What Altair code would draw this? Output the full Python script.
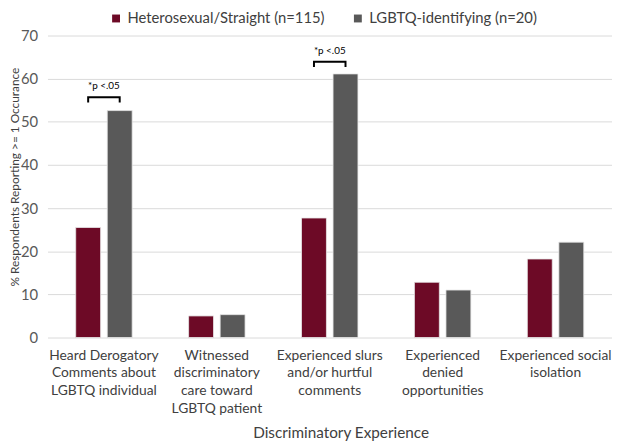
import altair as alt
import pandas as pd

categories = [
    "Heard Derogatory|Comments about|LGBTQ individual",
    "Witnessed|discriminatory|care toward|LGBTQ patient",
    "Experienced slurs|and/or hurtful|comments",
    "Experienced|denied|opportunities",
    "Experienced social|isolation",
]
groups = ["Heterosexual/Straight (n=115)", "LGBTQ-identifying (n=20)"]
hetero = [25.5, 5.0, 27.7, 12.8, 18.2]
lgbtq = [52.6, 5.3, 61.1, 11.0, 22.1]
colors = ["#6D0A26", "#595959"]

sig_categories = [categories[0], categories[2]]
sig_label = "*p <.05"
bracket_top = [55.7, 63.9]
bracket_tick = [54.5, 62.7]
label_y = [58.3, 66.4]

FONT = "Lato"

rows = []
for c, h, l in zip(categories, hetero, lgbtq):
    rows.append({"category": c, "group": groups[0], "value": h})
    rows.append({"category": c, "group": groups[1], "value": l})
bars_df = pd.DataFrame(rows)

br_rows = []
for i, (c, t, k) in enumerate(zip(sig_categories, bracket_top, bracket_tick)):
    br_rows += [
        {"id": i, "category": c, "group": groups[0], "y": k, "o": 0},
        {"id": i, "category": c, "group": groups[0], "y": t, "o": 1},
        {"id": i, "category": c, "group": groups[1], "y": t, "o": 2},
        {"id": i, "category": c, "group": groups[1], "y": k, "o": 3},
    ]
br_df = pd.DataFrame(br_rows)
lab_df = pd.DataFrame({"category": sig_categories, "y": label_y, "text": [sig_label] * 2})

x_enc = alt.X(
    "category:N",
    sort=categories,
    scale=alt.Scale(paddingInner=0.5, paddingOuter=0.25),
    axis=alt.Axis(
        title="Discriminatory Experience",
        labelExpr="split(datum.label, '|')",
        labelAngle=0,
        labelFontSize=14,
        labelLineHeight=18,
        labelColor="#404040",
        labelFont=FONT,
        labelPadding=11,
        labelLimit=0,
        domain=False,
        ticks=False,
        titleFont=FONT,
        titleFontSize=15.5,
        titleFontWeight="normal",
        titleColor="#404040",
        titleY=96,
        titleX=297,
        titleBaseline="middle",
    ),
)
xoff = alt.XOffset("group:N", sort=groups, scale=alt.Scale(paddingInner=0.21, paddingOuter=0))

bars = alt.Chart(bars_df).mark_bar(stroke="#e8e8e8", strokeWidth=0.8).encode(
    x=x_enc,
    xOffset=xoff,
    y=alt.Y(
        "value:Q",
        scale=alt.Scale(domain=[0, 70]),
        axis=alt.Axis(
            title="% Respondents Reporting >= 1 Occurance",
            values=[0, 10, 20, 30, 40, 50, 60, 70],
            domain=False,
            ticks=False,
            labelFont=FONT,
            labelFontSize=15,
            labelColor="#595959",
            labelPadding=10,
            gridColor="#d9d9d9",
            gridWidth=1,
            titleFont=FONT,
            titleFontSize=12,
            titleFontWeight="normal",
            titleColor="#404040",
            titleX=-33,
            titleY=143,
            titleAngle=270,
            titleBaseline="middle",
            titleAlign="center",
        ),
    ),
    color=alt.Color(
        "group:N",
        sort=groups,
        scale=alt.Scale(domain=groups, range=colors),
        legend=alt.Legend(
            title=None,
            orient="none",
            direction="horizontal",
            legendX=62,
            legendY=-25,
            symbolType="square",
            symbolSize=64,
            symbolStrokeWidth=0,
            labelFont=FONT,
            labelFontSize=15,
            labelColor="#404040",
            labelOffset=4,
            columnPadding=26,
            labelLimit=0,
        ),
    ),
)

brackets = alt.Chart(br_df).mark_line(color="black", strokeWidth=2).encode(
    x=x_enc,
    xOffset=xoff,
    y=alt.Y("y:Q"),
    detail="id:N",
    order="o:Q",
)

labels = alt.Chart(lab_df).mark_text(font=FONT, fontSize=10, color="black").encode(
    x=x_enc,
    y=alt.Y("y:Q"),
    text="text:N",
)

chart = alt.layer(bars, brackets, labels).properties(
    width=572,
    height=306,
    padding={"left": 40, "top": 25, "right": 0, "bottom": 103},
    autosize=alt.AutoSizeParams(type="none"),
).configure_view(stroke=None)

chart.save("out.html", embed_options={"renderer": "svg", "actions": False})
